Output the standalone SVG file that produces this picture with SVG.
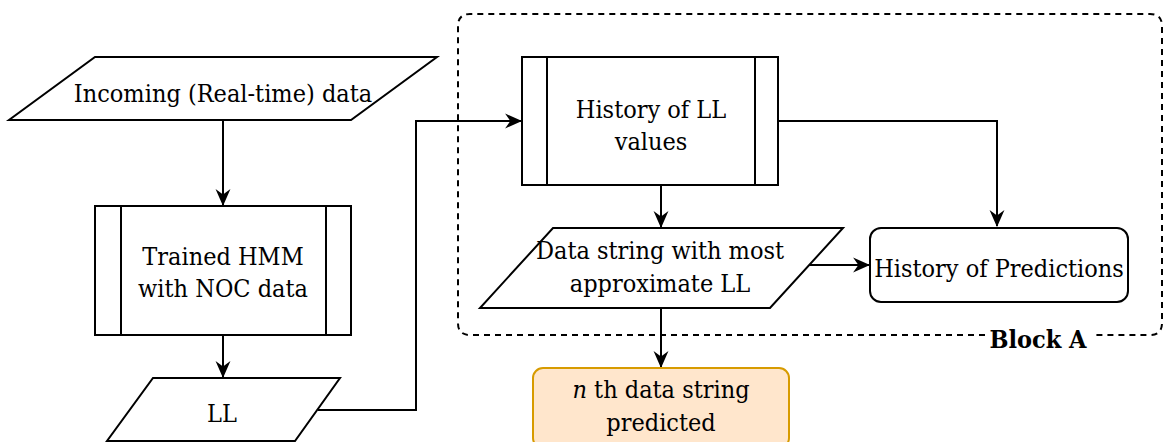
<svg xmlns="http://www.w3.org/2000/svg" width="1164" height="442" viewBox="0 0 1164 442">
<defs>
<marker id="arrow" viewBox="0 0 16 16" markerWidth="17" markerHeight="17" refX="15" refY="8" orient="auto" markerUnits="userSpaceOnUse">
<path d="M0,1 L16,8 L0,15 L5,8 Z" fill="#000"/>
</marker>
<style>
.sh{fill:#fff;stroke:#000;stroke-width:2}
.ln{fill:none;stroke:#000;stroke-width:2}
text{font-family:"DejaVu Serif Condensed","DejaVu Serif",serif;font-stretch:condensed;font-size:25px;fill:#000;text-anchor:middle}
.b{font-weight:bold}
.c{fill:none;stroke:#000;stroke-width:2}
</style>
</defs>
<rect width="1164" height="442" fill="#fff"/>
<g id="blockA">
<path d="M985,335 L470,335 Q458,335 458,323 L458,26 Q458,14 470,14 L1150,14 Q1162,14 1162,26 L1162,323 Q1162,335 1150,335 L1092,335" fill="none" stroke="#000" stroke-width="2" stroke-dasharray="6,5"/>
<text x="1038" y="348" class="b">Block A</text>
</g>
<g id="connectors">
<path class="c" d="M223,120 L223,205" marker-end="url(#arrow)"/>
<path class="c" d="M223,335 L223,377" marker-end="url(#arrow)"/>
<path class="c" d="M318,410 L416,410 L416,121 L521,121" marker-end="url(#arrow)"/>
<path class="c" d="M778,121 L997,121 L997,226" marker-end="url(#arrow)"/>
<path class="c" d="M661,185 L661,227" marker-end="url(#arrow)"/>
<path class="c" d="M807,265 L869,265" marker-end="url(#arrow)"/>
<path class="c" d="M661,308 L661,367" marker-end="url(#arrow)"/>
</g>
<g id="incoming">
<polygon class="sh" points="95,57 437,57 351,120 9,120"/>
<text x="223" y="102">Incoming (Real-time) data</text>
</g>
<g id="hmm">
<rect class="sh" x="95" y="206" width="256" height="129"/>
<line class="ln" x1="121" y1="206" x2="121" y2="335"/>
<line class="ln" x1="326" y1="206" x2="326" y2="335"/>
<text x="223" y="265">Trained HMM</text>
<text x="223" y="297">with NOC data</text>
</g>
<g id="ll">
<polygon class="sh" points="153,378 340,378 295,441 107,441"/>
<text x="222" y="422">LL</text>
</g>
<g id="history">
<rect class="sh" x="522" y="57" width="256" height="128"/>
<line class="ln" x1="547" y1="57" x2="547" y2="185"/>
<line class="ln" x1="755" y1="57" x2="755" y2="185"/>
<text x="651" y="118">History of LL</text>
<text x="651" y="150">values</text>
</g>
<g id="datastring">
<polygon class="sh" points="553,228 843,228 770,308 480,308"/>
<text x="660" y="259">Data string with most</text>
<text x="660" y="292">approximate LL</text>
</g>
<g id="predictions">
<rect class="sh" x="870" y="228" width="258" height="74" rx="11"/>
<text x="999" y="277">History of Predictions</text>
</g>
<g id="nth">
<rect x="533" y="368" width="256" height="80" rx="10" fill="#FFE6CC" stroke="#D79B00" stroke-width="2"/>
<text x="661" y="398"><tspan font-style="italic">n</tspan> th data string</text>
<text x="661" y="431">predicted</text>
</g>
</svg>
